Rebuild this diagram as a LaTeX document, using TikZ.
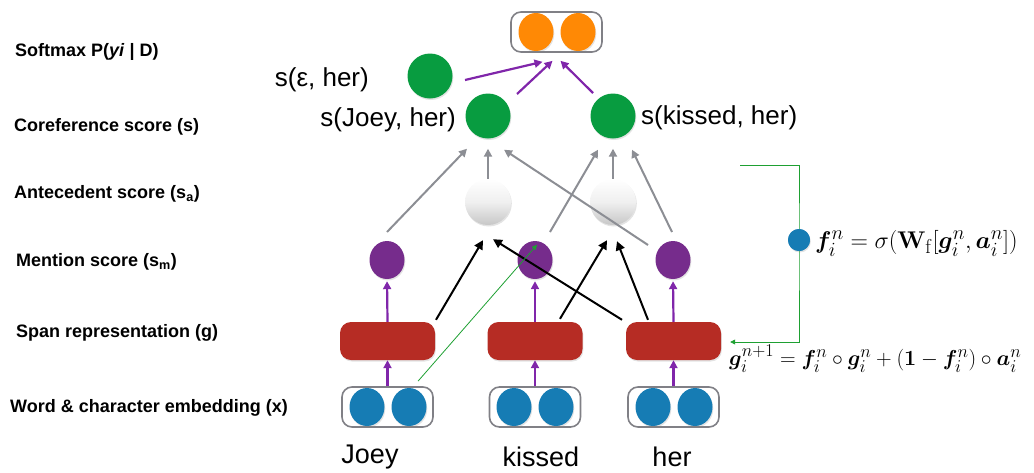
\documentclass[tikz,border=0pt]{standalone}
\usepackage{amsmath,bm,graphicx}
\usepackage[no-math]{fontspec}
\setmainfont{Liberation Sans}
\usetikzlibrary{arrows.meta,shapes.geometric,calc,shadows}
\definecolor{cOrange}{RGB}{255,137,5}
\definecolor{cGreen}{RGB}{8,156,64}
\definecolor{cPurple}{RGB}{118,44,140}
\definecolor{cArrowP}{RGB}{128,38,170}
\definecolor{cRed}{RGB}{182,44,36}
\definecolor{cBlue}{RGB}{22,124,180}
\definecolor{cGrayA}{RGB}{140,142,148}
\definecolor{cBox}{RGB}{128,128,134}
\definecolor{cLine}{RGB}{30,160,50}
\tikzset{
  shad/.style={drop shadow={shadow xshift=0.8pt,shadow yshift=-1.5pt,opacity=0.22}},
  orangeball/.style={ellipse,fill=cOrange,minimum width=35,minimum height=38,inner sep=0,shad},
  blueball/.style={ellipse,fill=cBlue,minimum width=35,minimum height=38,inner sep=0,shad},
  greenball/.style={circle,fill=cGreen,minimum size=45,inner sep=0,shad},
  purpleball/.style={ellipse,fill=cPurple,minimum width=35,minimum height=38,inner sep=0,shad},
  antball/.style={circle,inner sep=0,minimum size=46,top color=white,bottom color=black!22,middle color=black!6,shad},
  spanbox/.style={rectangle,rounded corners=11,fill=cRed,minimum width=95,minimum height=38,inner sep=0,shad},
  wordbox/.style={rectangle,rounded corners=10,draw=cBox,line width=1.6,minimum width=91,minimum height=40,inner sep=0},
  layerlabel/.style={anchor=west,font=\fontsize{18}{21}\selectfont\bfseries,inner sep=0},
  wordlabel/.style={font=\fontsize{27}{31}\selectfont,inner sep=0},
  scorelabel/.style={font=\fontsize{26}{30}\selectfont,inner sep=0},
  parrow/.style={draw=cArrowP,line width=2.2,-{Triangle[length=8,width=8]}},
  garrow/.style={draw=cGrayA,line width=2,-{Triangle[length=8,width=8]}},
  karrow/.style={draw=black,line width=2,-{Triangle[length=9,width=9]}},
  glink/.style={draw=cLine,line width=0.8,-{Triangle[length=5,width=5]}},
  fmath/.style={inner sep=0,font=\fontsize{24.88}{28}\selectfont},
}
\begin{document}
\begin{tikzpicture}[x=1pt,y=-1pt]
\useasboundingbox (0,0) rectangle (1034,472);
% layer labels
\node[layerlabel] (l1) at (15,52) {Softmax P(\textbf{\textit{yi}} | D)};
\node[layerlabel] (l2) at (14,127) {Coreference score (s)};
\node[layerlabel] (l3) at (14,194) {Antecedent score (s\textsubscript{a})};
\node[layerlabel] (l4) at (16,262) {Mention score (s\textsubscript{m})};
\node[layerlabel] (l5) at (16,333) {Span representation (g)};
\node[layerlabel] (l6) at (10,408) {Word \& character embedding (x)};
% top softmax box
\node[wordbox] (top) at (556.5,32) {};
\node[orangeball] (o1) at (536,32) {};
\node[orangeball] (o2) at (578,32) {};
% coreference scores
\node[greenball] (ceps) at (430,76) {};
\node[greenball] (cj) at (488,116) {};
\node[greenball] (ck) at (613,116) {};
\node[scorelabel,anchor=east] (tceps) at (369,80) {s(ε, her)};
\node[scorelabel,anchor=east] (tcj) at (456,120) {s(Joey, her)};
\node[scorelabel,anchor=west] (tck) at (641,118) {s(kissed, her)};
% antecedent scores
\node[antball] (aj) at (488,202) {};
\node[antball] (ak) at (613,202) {};
% mention scores
\node[purpleball] (mj) at (387,260) {};
\node[purpleball] (mk) at (535,260) {};
\node[purpleball] (mh) at (673,260) {};
% span representations
\node[spanbox] (sj) at (387.5,341) {};
\node[spanbox] (sk) at (535,341) {};
\node[spanbox] (sh) at (673.5,341) {};
% word boxes
\node[wordbox] (wj) at (387.5,407) {};
\node[blueball] (wj1) at (367,407) {};
\node[blueball] (wj2) at (409,407) {};
\node[wordbox] (wk) at (535,407) {};
\node[blueball] (wk1) at (514,407) {};
\node[blueball] (wk2) at (556,407) {};
\node[wordbox] (wh) at (673.5,407) {};
\node[blueball] (wh1) at (653,407) {};
\node[blueball] (wh2) at (695,407) {};
% words
\node[wordlabel] (joey) at (370,457) {Joey};
\node[wordlabel] (kissed) at (541,457) {kissed};
\node[wordlabel] (her) at (672,457) {her};
% purple arrows word -> span -> mention
\foreach \w/\s/\m in {wj/sj/mj,wk/sk/mk,wh/sh/mh}{
  \draw[parrow] (\w.north) -- (\s.south);
  \draw[parrow,shorten >=2] (\s.north) -- (\m.south);
}
% purple arrows to softmax
\draw[parrow] ($(ceps)+(35,4)$) -- ($(top.south)+(-14,9)$);
\draw[parrow] ($(cj)+(29,-22)$) -- ($(top.south)+(-4,8)$);
\draw[parrow] ($(ck)+(-20,-23)$) -- ($(top.south)+(4,8)$);
% gray arrows
\draw[garrow] ($(mj)+(0,-28)$) -- ($(cj.south)+(-21,10)$);
\draw[garrow] (aj.north) -- ($(cj.south)+(0,10)$);
\draw[garrow] ($(mh)+(-25,-15)$) -- ($(cj.south)+(16,11)$);
\draw[garrow] ($(mk)+(15,-28)$) -- ($(ck.south)+(-15,11)$);
\draw[garrow] (ak.north) -- ($(ck.south)+(0,10)$);
\draw[garrow] ($(mh)+(-1,-28)$) -- ($(ck.south)+(19,11)$);
% black arrows
\draw[karrow] ($(sj.north)+(48.5,-2)$) -- ($(aj.south)+(-5,15)$);
\draw[karrow] ($(sh.north)+(-51.5,-2)$) -- ($(aj.south)+(5,14)$);
\draw[karrow] ($(sk.north)+(25,-3)$) -- ($(ak.south)+(-6,15)$);
\draw[karrow] ($(sh.north)+(-25.5,-2)$) -- ($(ak.south)+(4,16)$);
% green thin link
\draw[glink] ($(sj.south)+(30.5,21)$) -- ($(mk.north)+(2,4)$);
% gate bracket
\coordinate (brtop) at (740,165);
\node[circle,fill=cBlue,minimum size=22,inner sep=0,shad] (fdot) at (799,240) {};
\draw[glink] (brtop) -| (fdot.center) |- ($(sh.east)+(9,1)$);
\node[circle,fill=cBlue,minimum size=22,inner sep=0] (fdot2) at (fdot) {};
% formulas
\node[fmath,anchor=base west] (f1) at (815,248) {\scalebox{0.97}{$\bm{f}_i^n=\sigma(\mathbf{W}_{\mathrm{f}}[\bm{g}_i^n,\bm{a}_i^n])$}};
\node[fmath,anchor=base west] (f2) at (729,365) {\scalebox{0.87}{$\bm{g}_i^{n+1}=\bm{f}_i^n\circ\bm{g}_i^n+(\mathbf{1}-\bm{f}_i^n)\circ\bm{a}_i^n$}};
\end{tikzpicture}
\end{document}
